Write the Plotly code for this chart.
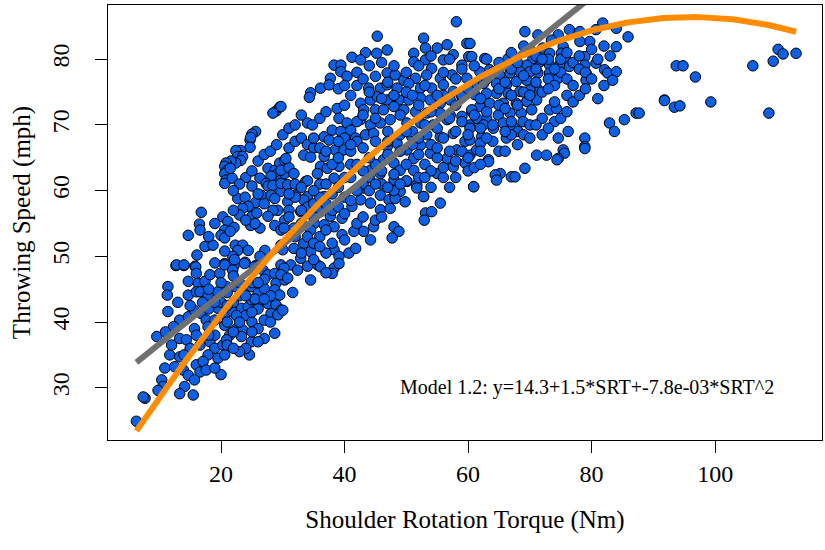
import numpy as np
import plotly.graph_objects as go

# ---- data (SRT in Nm, throwing speed in mph) ----
pts_upper_left = [
    (28.9,72.1),(29.5,72.7),(28.4,71.8),
    (25.6,69.0),(25.0,68.6),(24.7,67.7),(24.8,68.1),
    (24.7,66.6),(23.2,66.1),(22.4,66.1),(22.7,65.2),(23.5,65.2),(23.2,64.6),(22.4,64.2),
    (21.6,64.5),(20.8,64.2),(20.6,63.7),(21.0,63.1),(20.6,62.6),(20.8,61.6),(20.6,61.1),(21.8,61.9),(21.5,63.4),
    (27.6,63.4),(28.7,63.1),(29.5,64.2),(30.3,64.6),(29.2,62.6),(28.1,62.2),(26.3,61.9),(27.3,61.1),(27.6,60.7),
    (28.4,60.8),(29.7,61.6),(30.3,62.6),(29.7,63.1),
    (25.0,60.7),(26.5,59.3),(22.7,58.8),(23.9,59.0),(25.6,58.2),(24.4,57.6),(23.5,57.3),(23.0,56.3),(25.0,56.1),
    (25.8,56.6),(24.8,54.7),(26.3,54.3),(25.5,55.0),(28.1,59.3),(29.7,59.9),(28.7,58.8),(29.2,57.0),(28.4,57.0),
    (27.6,56.1),(28.7,54.7),(29.7,54.0),(30.3,55.5),
    (16.8,56.7),(16.5,54.9),(16.6,54.0),(14.7,53.2),(20.3,56.0),(21.1,55.3),(22.1,54.4),(20.6,54.0),(20.0,53.2),
    (20.6,52.8),(21.5,53.8),(17.9,51.7),(17.4,51.5),(18.7,51.7),(16.1,50.2),(22.3,51.7),(23.5,51.7),(22.7,50.9),
    (21.9,50.0),(20.6,50.8),(24.4,50.9),(25.6,48.6),(27.1,50.9),(26.3,50.0),(12.7,48.6),(14.0,48.6),(15.8,48.5),
    (20.6,48.9),(22.1,48.6),(23.9,49.1),
    (24,62),(25,63),(26,64.5),(27,65.5),(28,66),(29,67),(30,68.5),(31,69.5),(31,66.5),(32,67.5),(33,68),(34,67),
    (35,66.5),(36,66.5),(31,63.5),(26,59.5),(23,61),(22,60),(27,58),(24,55.5),(22,57),(19,55),(18,53),
]

pts_lower_left = [
    (12.8,48.7),(14.0,48.7),(15.9,48.4),(16.0,47.4),(14.7,46.2),(16.3,45.9),(17.4,46.2),(18.2,47.2),(19.8,47.4),
    (20.6,48.7),(21.9,47.9),(22.2,49.5),(23.8,48.9),(25.4,48.4),(26.8,47.9),(27.6,47.2),(28.7,47.4),(29.7,48.7),
    (28.9,45.9),(30.3,46.4),(11.4,45.4),(11.3,44.1),(14.7,44.1),(16.0,44.6),(16.6,44.6),(17.9,44.1),(19.5,44.6),
    (20.9,45.4),(22.2,45.4),(23.8,44.9),(24.9,45.4),(26.0,44.4),(27.0,45.1),(28.7,44.9),(29.5,44.1),(26.2,43.1),
    (27.6,42.8),(28.9,42.6),(29.7,41.8),(28.1,41.3),(27.0,40.3),(29.2,41.1),(11.4,41.6),(13.3,40.3),(14.7,40.8),
    (15.7,41.8),(16.8,41.3),(17.6,40.3),(19.5,42.1),(20.6,41.1),(21.9,41.6),(23.3,42.1),(24.4,42.3),(24.9,43.4),
    (9.6,37.8),(12.3,39.3),(13.3,37.5),(14.4,37.3),(15.7,39.0),(17.9,39.3),(19.0,40.3),(20.6,39.5),(21.4,38.0),
    (22.5,39.0),(23.5,38.8),(23.3,37.8),(24.9,37.0),(24.6,35.0),(28.7,38.3),(11.7,35.0),(13.3,34.7),(15.0,36.0),
    (16.6,36.5),(18.2,37.0),(19.0,36.0),(20.3,36.5),(20.9,37.3),(17.9,35.0),(19.5,34.5),(20.6,35.0),(10.9,33.0),
    (10.4,31.2),(12.5,33.2),(13.9,32.7),(14.7,31.9),(16.0,33.5),(17.1,34.0),(16.6,32.4),(17.6,32.7),(15.7,31.2),
    (14.1,30.2),(10.6,30.2),(9.8,29.6),(13.3,29.1),(15.5,28.9),(7.7,28.4),(7.4,28.6),(6.3,24.9),
    (22.0,43.0),(23.0,44.0),(24.0,41.0),(25.0,40.0),(26.0,42.0),(21.0,40.0),(22.0,38.5),(25.0,46.0),(27.0,46.5),
    (23.0,46.0),(26.0,39.0),(19.0,38.0),(18.0,42.0),(20.0,43.0),(24.0,36.0),(27.0,37.5),(21.0,44.5),(25.5,43.5),
    (28.0,44.0),(22.5,41.0),
    (18,45),(19,43),(20,46),(21,42.5),(22,47),(23,40),(24,44),(25,41.5),(26,46),(27,43.5),(28,40),(19,49),(18,38),
    (17,43),(21,36.5),(23,35.5),(22,36),(26,37),(25,38.5),(20,32),(19,33),(16,38),(15,42.5),(14,35),(12,36.5),
    (11,38.5),(13,43),
]

pts_upper_mid = [
    (58.1,85.7),(45.3,83.5),(52.8,83.2),(59.8,82.4),(46.9,81.4),(43.4,81.0),(41.2,80.3),(38.3,79.1),(39.4,79.1),
    (42.6,79.9),(45.2,80.9),(51.2,80.9),(53.1,81.7),(55.0,81.7),(56.6,82.2),(57.6,80.7),(60.1,80.4),(59.0,79.1),
    (56.0,79.9),(53.1,79.9),(51.2,79.6),(54.1,78.6),(39.4,78.1),(40.4,77.4),(37.7,77.1),(36.1,75.6),(34.5,74.9),
    (34.3,74.2),(37.5,76.1),(45.0,77.4),(46.9,77.9),(48.2,77.6),(49.6,76.8),(51.5,77.1),(53.3,77.6),(55.5,77.1),
    (57.4,77.6),(59.8,77.1),(43.9,75.6),(45.8,75.6),(46.9,76.1),(48.5,75.6),(50.4,76.3),(52.3,75.6),(54.1,75.6),
    (56.0,76.1),(57.6,75.1),(42.6,73.3),(44.2,73.8),(45.3,74.3),(46.9,73.8),(48.8,73.8),(50.4,73.8),(52.3,74.1),
    (53.9,73.8),(55.5,73.3),(57.1,73.8),(59.0,74.3),(38.8,72.5),(43.1,72.3),(45.0,72.3),(46.3,72.3),(48.0,72.8),
    (49.6,72.3),(51.5,72.0),(53.3,71.8),(55.5,71.8),(57.1,71.5),(59.0,71.3),(60.6,72.0),(34.0,70.3),(34.8,70.0),
    (39.1,71.0),(40.4,70.3),(42.6,70.8),(44.2,70.0),(45.8,70.3),(47.4,70.8),(38.0,69.2),(39.4,69.0),(41.0,69.2),
    (41.8,68.0),(43.4,68.5),(44.7,68.7),(36.7,68.2),(37.5,67.7),(38.5,66.2),(39.9,66.2),(41.0,66.0),(33.4,65.4),
    (34.5,65.1),(36.7,65.2),(36.1,63.7),(37.2,63.4),(39.1,63.7),(30.5,64.9),(31.8,62.6),(35.6,62.6),(38.3,61.9),
    (33.7,61.4),(29.7,72.8),(29.7,61.1),(30.8,60.9),(32.1,59.3),(34.0,59.1),(36.7,59.1),(43.1,60.4),(45.8,59.3),
    (49.0,59.9),(52.8,59.1),(60.9,60.6),(55.0,62.6),(57.6,63.6),(59.5,64.2),(56.6,64.9),(58.2,66.2),(53.9,65.7),
    (51.2,64.9),(52.3,66.9),(50.1,66.2),(48.5,67.2),(46.9,66.7),(50.9,68.2),(53.3,68.5),(55.5,68.2),(57.6,68.7),
    (59.5,67.5),(60.3,70.0),(56.6,70.8),(54.4,70.0),(52.3,70.3),(50.1,70.3),(46.3,64.7),(48.0,64.2),(49.0,63.1),
    (51.2,63.1),(45.8,62.6),(44.2,63.1),(48.0,61.6),(50.1,61.4),(51.7,60.9),
    (37,66),(38,64),(40,62),(41,64),(42,67.5),(44,62),(45,64),(40,68),(39,67.5),(42,70.5),(43,71.5),(36,71),
    (37,72),(35,68),(33,71.5),(32,70),
]

pts_lower_mid = [
    (30.8,58.3),(33.4,58.6),(32.9,56.8),(36.1,56.8),(37.7,56.1),(39.6,55.8),(41.2,57.6),(42.6,58.6),(44.2,58.1),
    (45.8,57.1),(47.2,58.6),(48.2,58.8),(49.8,58.3),(47.4,57.3),(51.7,60.4),(52.8,59.1),(55.5,58.1),(53.1,56.6),
    (54.1,56.8),(52.9,55.5),(48.0,54.5),(48.8,53.8),(47.7,52.8),(44.2,52.5),(44.7,54.5),(43.1,53.8),(41.5,53.8),
    (39.6,53.3),(38.3,54.5),(36.7,54.8),(35.1,55.0),(34.5,54.0),(31.8,54.3),(30.2,54.3),(29.7,51.7),(31.8,51.2),
    (33.4,52.0),(34.5,50.7),(32.9,49.7),(31.3,48.7),(30.2,48.2),(32.4,47.9),(35.6,48.7),(36.1,48.4),(38.3,51.0),
    (39.1,50.0),(40.7,50.5),(41.8,51.2),(38.3,48.2),(39.1,48.9),(38.0,47.4),(34.5,46.4),(31.6,44.5),(30.0,41.8),
    (29.7,47.2),(30.8,46.7),
    (31.0,57.0),(32.0,59.0),(34.0,57.5),(35.0,58.0),(36.0,59.0),(37.0,58.0),(38.0,57.0),(39.0,57.5),(40.0,56.5),
    (33.0,55.0),(36.0,53.0),(38.0,52.0),(40.0,52.5),(42.0,55.0),(43.0,56.0),(45.0,55.5),(46.0,56.0),(34.0,53.0),
    (35.0,52.0),(37.0,50.5),
    (31,56),(32,61),(33,57),(34,61.5),(35,56),(36,61),(37,54),(38,59.5),(39,60.5),(40,59),(41,58.5),(30,51),
    (32,53),(34,48.5),(36,51.5),(37,47.5),(33,50.5),(35,49.5),
]

pts_upper_right = [
    (69.2,84.2),(71.3,83.7),(74.6,83.7),(76.4,84.5),(78.1,84.2),(81.8,85.5),(80.7,84.5),(84.0,84.7),(85.9,83.4),
    (84.0,81.9),(79.7,82.7),(78.1,82.7),(75.4,81.9),(73.5,82.9),(72.1,81.7),(73.2,80.9),(75.1,80.9),(75.9,79.9),
    (76.4,78.9),(74.8,79.1),(73.2,79.1),(71.6,79.6),(70.5,80.1),(69.5,79.1),(67.8,79.6),(66.5,80.1),(62.7,80.1),
    (60.6,80.4),(60.3,82.4),(78.9,80.4),(78.9,79.1),(79.1,77.9),(79.1,76.8),(80.7,79.4),(82.1,78.4),(82.6,77.9),
    (84.0,78.1),(83.4,76.8),(74.6,77.1),(73.2,77.9),(71.3,77.9),(70.0,78.1),(68.4,78.1),(66.8,77.9),(65.1,77.6),
    (63.5,78.4),(61.9,78.1),(62.5,76.3),(64.6,76.3),(66.2,76.1),(67.8,76.6),(69.5,76.8),(71.1,75.6),(70.0,75.3),
    (68.4,75.1),(66.5,74.8),(64.6,74.8),(63.0,74.8),(61.1,74.6),(71.1,73.8),(69.5,73.6),(67.8,73.3),(65.7,73.3),
    (63.5,73.3),(61.9,72.8),(60.6,72.3),(70.3,72.3),(68.6,71.8),(66.8,71.8),(64.9,71.5),(63.0,71.0),(61.4,71.0),
    (73.2,72.3),(74.3,72.5),(74.0,70.5),(68.9,70.5),(67.3,69.7),(65.7,70.3),(64.1,69.5),(62.5,70.0),(60.3,69.5),
    (68.1,69.0),(66.2,68.0),(67.0,68.5),(62.2,68.2),(60.3,67.7),(76.2,69.0),(74.6,68.0),(78.9,68.0),(78.9,66.7),
    (75.4,66.2),(75.6,65.7),(71.1,65.4),(72.7,65.4),(74.6,64.9),(60.3,65.4),(63.3,64.7),(69.2,63.4),(65.2,62.6),
    (64.4,62.4),(64.6,61.6),(67.0,62.1),(67.6,62.1),(60.9,60.6),(82.9,70.3),(83.7,69.0),(85.3,70.8),(87.2,71.8),
    (91.8,73.8),(61.4,66.2),(62.0,67.2),(63.3,64.4),(74.4,64.7),(78.9,66.4),
]

pts_far_right = [
    (93.7,79.0),(94.8,79.0),(96.8,77.3),(91.8,73.7),(93.4,72.7),(94.3,72.9),(99.3,73.5),(87.7,71.8),
    (106.1,79.0),(109.4,79.7),(110.2,81.5),(111.0,80.8),(113.1,80.9),(108.7,71.8),
]

pts_dense_band = [
    (41,62),(42,64),(43,61),(44,65),(46,63),(47,65.5),(48,62.5),(49,66),(50,64),(51,67),(52,62),(53,64),(54,67),
    (55,65),(56,68),(57,66),(58,69),(59,70.5),(60,68.5),(61,71.5),(62,69.5),(63,72),(64,70),(65,73),(66,72.5),
    (67,74.5),(68,73),(69,75),(70,74.5),(71,76.5),(72,75),(73,77),(74,76),(75,78),(76,77),(77,79.5),(78,78.5),
    (44,60),(46,61),(48,60),(50,61.5),(52,65.5),(54,63),(56,62),(58,64.5),(60,63),(62,66),(64,67.5),(66,69),
    (68,67),(70,70),(72,71),(74,73.5),(76,74.5),(57,71),(55,69.5),(53,70),(51,69),(49,68.5),(47,69),(45,67.5),
    (43,66.5),(41,67),(39,65),(37,61),(35,60),(33,60.5),(31,59.5),(59,74.5),(61,76),(63,77),(65,75.5),(67,78.5),
    (69,77.5),(71,80.5),(73,80),(58,77),(56,74.5),(54,72),(52,73),(50,75),(48,74.5),(46,74),(44,75),(42,76),
    (40,73),(39,75.5),
    (40,76),(41,74.5),(42,78),(43,77),(44,79),(45,71),(46,79.5),(47,76.5),(48,79),(49,71.5),(50,78),(51,74.5),
    (52,79),(53,76),(54,80.5),(55,74.5),(56,78),(57,80),(58,73),(59,78.5),(60,75.5),(61,79),(62,74),(63,80),
    (64,78),(65,79.5),(66,76.5),(67,81),(68,79.5),(69,82),(70,81.5),(71,78.5),(72,80),(73,75.5),(74,78.5),
    (75,80),(76,81),(77,76),(78,80.5),(79,78),(80,81.5),(81,80),(82,82),(83,80.5),
    (42,60),(43,63),(45,61),(47,60.5),(47,67.5),(49,61),(50,69),(52,68),(53,62),(54,60.5),(55,66.5),(56,63.5),
    (57,60.5),(58,62),(59,66),(60,65),(61,63.5),(62,64),(63,68),(65,66),(66,66),(67,70.5),(69,68.5),(70,68),
    (71,70),(72,68.5),(73,69.5),(75,71),(76,72),(77,73.5),(78,74.5),(79,75.5),(80,77),(81,74),(82,76),
]

# model coefficients
quad_coef = (14.3, 1.5, -7.8e-03)      # Model 1.2 (as printed on the chart)
lin_coef = (29.1, 0.755)               # simple linear fit
srt_min, srt_max = 6.3, 113.1

x_ticks = [20, 40, 60, 80, 100]
y_ticks = [30, 40, 50, 60, 70, 80]

all_pts = (pts_upper_left + pts_lower_left + pts_upper_mid + pts_lower_mid
           + pts_upper_right + pts_far_right + pts_dense_band)
srt = [p[0] for p in all_pts]
speed = [p[1] for p in all_pts]

xs = np.linspace(srt_min, srt_max, 300)
quad_y = quad_coef[0] + quad_coef[1] * xs + quad_coef[2] * xs ** 2
lin_y = lin_coef[0] + lin_coef[1] * xs

FONT = "Liberation Serif"

fig = go.Figure()
fig.add_trace(go.Scatter(
    x=srt, y=speed, mode="markers",
    marker=dict(size=10.5, color="#0d5fe3", line=dict(color="black", width=1)),
    hoverinfo="skip", cliponaxis=True))
fig.add_trace(go.Scatter(x=xs, y=lin_y, mode="lines",
                         line=dict(color="#707070", width=6)))
fig.add_trace(go.Scatter(x=xs, y=quad_y, mode="lines",
                         line=dict(color="#ff8c00", width=6)))

fig.add_annotation(x=79.2, y=30.0, xref="x", yref="y",
                   text="Model 1.2: y=14.3+1.5*SRT+-7.8e-03*SRT^2",
                   showarrow=False, font=dict(size=20, family=FONT, color="black"))

axis_common = dict(ticks="outside", ticklen=12, tickwidth=1, tickcolor="black",
                   showline=True, linecolor="black", linewidth=1, mirror=True,
                   showgrid=False, zeroline=False,
                   tickfont=dict(size=24, family=FONT, color="black"))

fig.update_layout(
    width=825, height=550,
    margin=dict(l=108, r=3, t=5, b=110),
    plot_bgcolor="white", paper_bgcolor="white",
    showlegend=False,
    font=dict(family=FONT, size=24, color="black"),
    xaxis=dict(range=[1.7, 117.3], tickvals=x_ticks, automargin=False,
               title=dict(text="Shoulder Rotation Torque (Nm)", standoff=24,
                          font=dict(size=25, family=FONT)),
               **axis_common),
    yaxis=dict(range=[22.05, 88.25], tickvals=y_ticks, tickangle=-90, automargin=False,
               ticklabelstandoff=16,
               title=dict(text="Throwing Speed (mph)", standoff=10,
                          font=dict(size=25, family=FONT)),
               **axis_common),
)

fig.write_html("out.html")
